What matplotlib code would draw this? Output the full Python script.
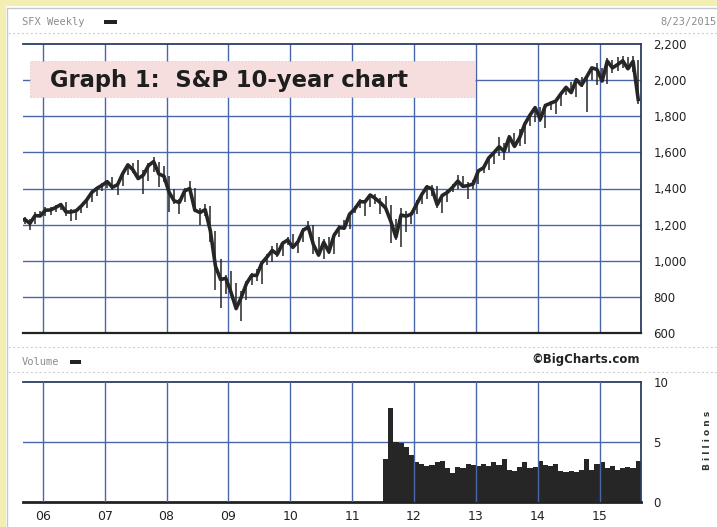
import matplotlib
matplotlib.use("Agg")
import matplotlib.pyplot as plt
import numpy as np
from matplotlib.patches import Rectangle

# ── Data: S&P 500 monthly bars (Aug 2005 .. Aug 2015) ─────────────────────────
start_year, start_month = 2005, 8

price_close = [
    1220, 1229, 1207, 1250, 1248,                                       # 2005 Aug-Dec
    1280, 1281, 1295, 1311, 1270, 1270, 1277, 1304, 1336, 1378, 1401, 1418,  # 2006
    1438, 1407, 1421, 1482, 1531, 1503, 1455, 1474, 1527, 1549, 1481, 1468,  # 2007
    1379, 1331, 1323, 1386, 1400, 1280, 1267, 1283, 1166, 969, 896, 903,     # 2008
    826, 735, 798, 873, 919, 919, 988, 1021, 1057, 1036, 1096, 1115,         # 2009
    1074, 1105, 1169, 1187, 1089, 1031, 1102, 1049, 1141, 1183, 1181, 1258,  # 2010
    1286, 1327, 1326, 1364, 1345, 1321, 1292, 1219, 1131, 1253, 1247, 1258,  # 2011
    1312, 1366, 1409, 1398, 1310, 1362, 1379, 1407, 1441, 1412, 1416, 1426,  # 2012
    1498, 1515, 1569, 1598, 1631, 1606, 1686, 1633, 1682, 1757, 1806, 1848,  # 2013
    1783, 1860, 1872, 1884, 1924, 1960, 1931, 2003, 1972, 2018, 2068, 2059,  # 2014
    1995, 2105, 2068, 2086, 2107, 2063, 2104, 1893,                          # 2015
]
price_high = [
    1245, 1243, 1233, 1270, 1276,
    1295, 1297, 1310, 1318, 1326, 1285, 1283, 1306, 1340, 1390, 1407, 1431,
    1441, 1461, 1438, 1498, 1535, 1541, 1556, 1503, 1539, 1576, 1545, 1524,
    1471, 1396, 1344, 1404, 1440, 1404, 1292, 1313, 1303, 1167, 1007, 919,
    943, 876, 832, 888, 930, 956, 997, 1039, 1080, 1101, 1111, 1130,
    1150, 1112, 1181, 1220, 1200, 1131, 1120, 1129, 1151, 1196, 1227, 1263,
    1303, 1344, 1333, 1364, 1371, 1346, 1357, 1308, 1230, 1293, 1278, 1270,
    1334, 1378, 1420, 1422, 1415, 1364, 1392, 1426, 1475, 1471, 1435, 1448,
    1504, 1530, 1570, 1598, 1687, 1654, 1698, 1709, 1730, 1765, 1814, 1849,
    1850, 1867, 1884, 1897, 1925, 1968, 1991, 2005, 2019, 2019, 2075, 2093,
    2065, 2120, 2114, 2126, 2135, 2130, 2133, 2113,
]
price_low = [
    1201, 1201, 1168, 1201, 1245,
    1245, 1253, 1268, 1280, 1245, 1219, 1224, 1263, 1291, 1327, 1360, 1385,
    1403, 1389, 1364, 1416, 1476, 1484, 1454, 1371, 1439, 1489, 1407, 1435,
    1270, 1316, 1257, 1324, 1373, 1272, 1200, 1247, 1106, 840, 741, 815,
    804, 735, 667, 783, 866, 888, 869, 978, 992, 1020, 1029, 1086,
    1071, 1044, 1105, 1170, 1040, 1028, 1011, 1040, 1039, 1131, 1173, 1174,
    1262, 1290, 1249, 1295, 1312, 1258, 1283, 1101, 1114, 1075, 1159, 1202,
    1259, 1312, 1340, 1358, 1292, 1267, 1325, 1378, 1397, 1403, 1343, 1398,
    1426, 1485, 1501, 1536, 1581, 1560, 1604, 1627, 1633, 1646, 1746, 1767,
    1770, 1737, 1834, 1814, 1859, 1915, 1930, 1905, 1964, 1821, 2001, 1972,
    1988, 1981, 2040, 2048, 2067, 2056, 2044, 1867,
]

# Volume in billions, monthly from Jul 2011 (no data before)
vol_start_year, vol_start_month = 2011, 7
volume = [
    3.6, 7.8, 5.0, 4.9, 4.6, 3.9,                                   # 2011 Jul-Dec
    3.3, 3.2, 3.0, 3.1, 3.3, 3.4, 2.8, 2.4, 2.9, 2.8, 3.2, 3.1,      # 2012
    3.0, 3.2, 3.0, 3.3, 3.1, 3.6, 2.7, 2.6, 2.9, 3.3, 2.8, 2.9,      # 2013
    3.4, 3.1, 3.0, 3.2, 2.6, 2.5, 2.6, 2.5, 2.7, 3.6, 2.7, 3.2,      # 2014
    3.3, 2.8, 3.0, 2.7, 2.8, 2.9, 2.8, 3.4,                          # 2015
]

price_ticks = [600, 800, 1000, 1200, 1400, 1600, 1800, 2000, 2200]
volume_ticks = [0, 5, 10]
year_ticks = [2006, 2007, 2008, 2009, 2010, 2011, 2012, 2013, 2014, 2015]
year_labels = ["06", "07", "08", "09", "10", "11", "12", "13", "14", "15"]


def month_positions(y0, m0, n):
    """Decimal-year centre of each month."""
    idx = np.arange(n) + (m0 - 1)
    return y0 + idx / 12.0 + 0.5 / 12.0


GRID = "#4a66aa"
FRAME = "#2c3d66"
INK = "#262626"
XLIM = (2005.68, 2015.67)

fig = plt.figure(figsize=(7.17, 5.27), dpi=100)
fig.patch.set_facecolor("white")

# background layer in pixel coordinates
bg = fig.add_axes([0, 0, 1, 1], zorder=0)
bg.set_xlim(0, 717)
bg.set_ylim(527, 0)
bg.axis("off")
bg.add_patch(Rectangle((0, 0), 717, 6, color="#f3eeb2", lw=0))
bg.add_patch(Rectangle((0, 0), 6, 527, color="#f3eeb2", lw=0))
bg.plot([7, 7], [8, 527], color="#c8c8c8", lw=1)
bg.plot([7, 717], [8, 8], color="#c8c8c8", lw=1)
for yy in (33, 347, 372):
    bg.plot([8, 717], [yy, yy], color="#d0d0d0", lw=0.8, ls=(0, (2, 2)))
bg.text(22, 22, "SFX Weekly", fontsize=7.5, family="DejaVu Sans Mono",
        color="#8c8c8c", va="center")
bg.add_patch(Rectangle((104, 20), 13, 4, color="#222222", lw=0))
bg.text(717, 22, "8/23/2015", fontsize=7.5, family="DejaVu Sans Mono",
        color="#8c8c8c", va="center", ha="right")
bg.text(22, 362, "Volume", fontsize=7.5, family="DejaVu Sans Mono",
        color="#8c8c8c", va="center")
bg.add_patch(Rectangle((70, 360), 11, 4, color="#222222", lw=0))
bg.text(640, 360, "\u00a9BigCharts.com", fontsize=8.5, fontweight="bold",
        color="#222222", va="center", ha="right")
bg.text(707, 440, "B i l l i o n s", fontsize=6.5, fontweight="bold",
        color="#333333", rotation=90, va="center", ha="center")

# ── Price panel ───────────────────────────────────────────────────────────────
ax = fig.add_axes([23 / 717, 1 - 333 / 527, 618 / 717, 289 / 527], zorder=1)
ax.patch.set_alpha(0)
x_price = month_positions(start_year, start_month, len(price_close))
for yr in year_ticks:
    ax.axvline(yr, color=GRID, lw=1, zorder=1)
for p in price_ticks[1:-1]:
    ax.axhline(p, color=GRID, lw=1, zorder=1)
ax.vlines(x_price, price_low, price_high, color=INK, lw=1.1, zorder=3)
ax.plot(x_price, price_close, color=INK, lw=2.6, zorder=3)
ax.set_xlim(*XLIM)
ax.set_ylim(600, 2200)
ax.set_yticks(price_ticks)
ax.set_yticklabels([f"{v:,}" for v in price_ticks])
ax.yaxis.tick_right()
ax.tick_params(axis="y", length=0, pad=9, labelsize=8.5, labelcolor="#222222")
ax.set_xticks([])
ax.spines["left"].set_visible(False)
for s in ("top", "right"):
    ax.spines[s].set_color(FRAME)
    ax.spines[s].set_linewidth(1.3)
ax.spines["bottom"].set_color("#222222")
ax.spines["bottom"].set_linewidth(1.6)

# title banner
ax.add_patch(Rectangle((0.012, 0.815), 0.72, 0.125, transform=ax.transAxes,
                       facecolor="#f7dede", edgecolor="#e8c8c8", lw=0.6,
                       ls=(0, (2, 2)), zorder=2))
ax.text(0.044, 0.875, "Graph 1:  S&P 10-year chart", transform=ax.transAxes,
        fontsize=16.3, fontweight="bold", family="DejaVu Sans",
        color="#1e1e1e", va="center", zorder=4)

# ── Volume panel ──────────────────────────────────────────────────────────────
av = fig.add_axes([23 / 717, 1 - 502 / 527, 618 / 717, 120 / 527], zorder=1)
av.patch.set_alpha(0)
x_vol = month_positions(vol_start_year, vol_start_month, len(volume))
av.bar(x_vol, volume, width=1 / 12.0, color=INK, lw=0, zorder=2)
for yr in year_ticks:
    av.axvline(yr, color=GRID, lw=1, zorder=3)
av.axhline(5, color=GRID, lw=1, zorder=1)
av.set_xlim(*XLIM)
av.set_ylim(0, 10)
av.set_yticks(volume_ticks)
av.yaxis.tick_right()
av.tick_params(axis="y", length=0, pad=9, labelsize=8.5, labelcolor="#222222")
av.set_xticks(year_ticks)
av.set_xticklabels(year_labels)
av.tick_params(axis="x", length=0, pad=6, labelsize=9, labelcolor="#222222")
av.spines["left"].set_visible(False)
for s in ("top", "right"):
    av.spines[s].set_color(FRAME)
    av.spines[s].set_linewidth(1.3)
av.spines["bottom"].set_color("#222222")
av.spines["bottom"].set_linewidth(2.0)

fig.savefig("out.png", dpi=100)
